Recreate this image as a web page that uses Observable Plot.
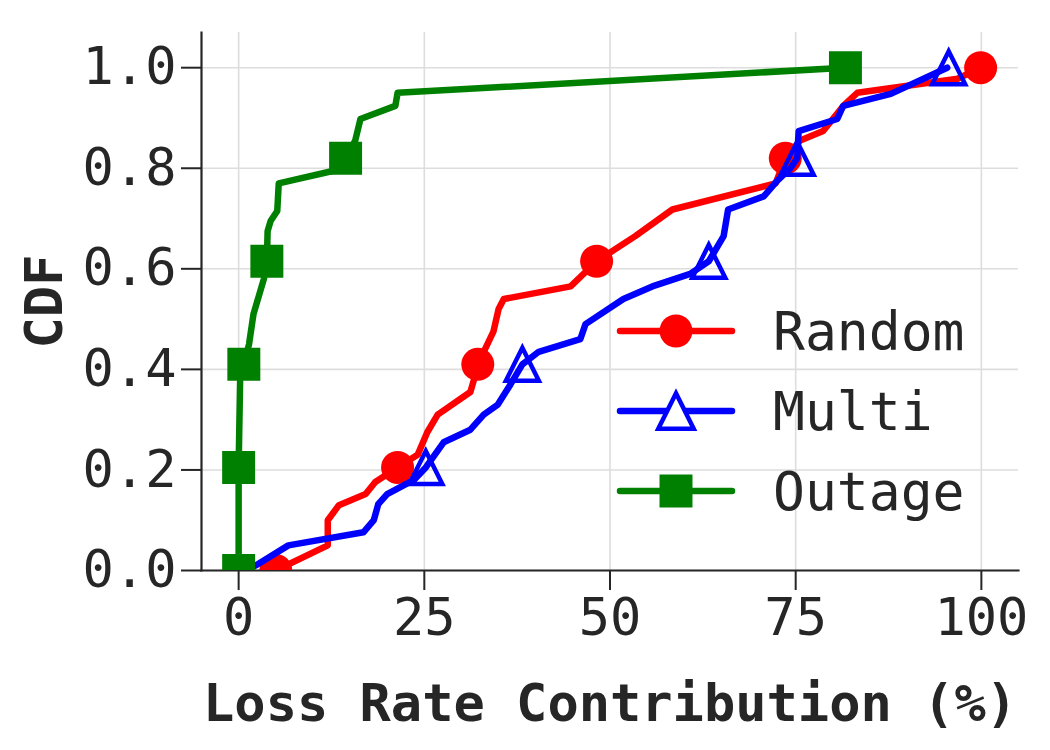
<!DOCTYPE html>
<html>
<head>
<meta charset="utf-8">
<script src="https://cdn.jsdelivr.net/npm/d3@7"></script>
<script src="https://cdn.jsdelivr.net/npm/@observablehq/plot@0.6"></script>
<style>
  body { margin: 0; background: #fff; }
  #wrap { position: relative; width: 1050px; height: 750px; }
  #wrap svg text { font-family: "DejaVu Sans Mono", monospace; }
  g[aria-label="x-axis label"] text, g[aria-label="y-axis label"] text { font-weight: bold; }
  #legend { position: absolute; left: 0; top: 0; pointer-events: none; }
</style>
</head>
<body>
<div id="wrap"></div>
<script>
// ---- Data ----
const seriesNames = ["Random", "Multi", "Outage"];
const seriesColors = ["#ff0000", "#0000ff", "#008000"];

const randomX = [5, 12, 12, 13.5, 17.1, 18.4, 21.4, 24.1, 25.4, 26.8, 31.2, 31.6, 32.2, 34.3, 35, 35.7, 44.7, 48.2, 53.4, 58.4, 72.3, 73.6, 75.6, 78.7, 81.4, 83.3, 96.8, 99.9];
const randomY = [0, 0.05, 0.1, 0.13, 0.152, 0.176, 0.205, 0.23, 0.275, 0.31, 0.355, 0.375, 0.41, 0.475, 0.52, 0.54, 0.565, 0.615, 0.665, 0.718, 0.77, 0.82, 0.855, 0.874, 0.924, 0.95, 0.978, 1.0];
const randomMarkX = [5, 21.4, 32.2, 48.2, 73.6, 99.9];
const randomMarkY = [0, 0.205, 0.41, 0.615, 0.82, 1.0];

const multiX = [1, 2.3, 6.7, 16.8, 18.2, 18.8, 20, 23.6, 25.2, 27.6, 31.2, 33, 34.9, 36.6, 38.2, 40.4, 46, 46.7, 51.8, 55.7, 60.8, 63.3, 65.3, 65.9, 70.7, 72.5, 74.3, 75.2, 75.4, 80.6, 81.4, 87.8, 95.4];
const multiY = [0, 0.01, 0.05, 0.076, 0.1, 0.132, 0.152, 0.18, 0.205, 0.255, 0.28, 0.31, 0.33, 0.37, 0.41, 0.435, 0.46, 0.49, 0.54, 0.565, 0.59, 0.615, 0.665, 0.718, 0.744, 0.775, 0.8, 0.82, 0.874, 0.898, 0.924, 0.948, 1.0];
const multiMarkX = [25.2, 38.2, 63.3, 75.2, 95.6];
const multiMarkY = [0.205, 0.41, 0.615, 0.82, 1.0];

const outageX = [0, 0, 0.2, 0.7, 1.4, 2.0, 3.4, 3.8, 3.9, 4.3, 5.2, 5.4, 12.8, 14.4, 15.7, 16.4, 21.1, 21.4, 81.7];
const outageY = [0, 0.205, 0.38, 0.41, 0.45, 0.51, 0.58, 0.615, 0.675, 0.695, 0.715, 0.77, 0.795, 0.82, 0.855, 0.898, 0.924, 0.95, 1.0];
const outageMarkX = [0, 0, 0.7, 3.8, 14.4, 81.7];
const outageMarkY = [0, 0.205, 0.41, 0.615, 0.82, 1.0];

const xTicks = [0, 25, 50, 75, 100];
const yTicks = [0, 0.2, 0.4, 0.6, 0.8, 1.0];

// ---- Build tables ----
const zip = (xs, ys) => xs.map((x, i) => ({x, y: ys[i]}));
const randomLine = zip(randomX, randomY), randomMarks = zip(randomMarkX, randomMarkY);
const multiLine = zip(multiX, multiY), multiMarks = zip(multiMarkX, multiMarkY);
const outageLine = zip(outageX, outageY), outageMarks = zip(outageMarkX, outageMarkY);

// matplotlib-style "^" triangle (width == height)
const mplTriangle = {
  draw(context, size) {
    const s = Math.sqrt(size) / 2;
    context.moveTo(0, -s);
    context.lineTo(s, s);
    context.lineTo(-s, s);
    context.closePath();
  }
};

const MS = 18.6; // r so that marker side ≈ 33px
const LW = 6.5;
const FS = 52;
const font = '"DejaVu Sans Mono", monospace';
const ink = "#262626";

const chart = Plot.plot({
  width: 1050,
  height: 750,
  marginLeft: 201,
  marginRight: 32,
  marginTop: 32,
  marginBottom: 180,
  style: {fontFamily: font, fontSize: FS + "px", color: ink, background: "#fff", overflow: "visible"},
  x: {domain: [-5, 105]},
  y: {domain: [0, 1.07]},
  marks: [
    Plot.gridX(xTicks, {stroke: "#dddddd", strokeOpacity: 1, strokeWidth: 1.6}),
    Plot.gridY(yTicks, {stroke: "#dddddd", strokeOpacity: 1, strokeWidth: 1.6}),
    Plot.axisX(xTicks, {
      tickSize: 20, tickPadding: 8, fontSize: FS, color: ink, strokeWidth: 2,
      label: "Loss Rate Contribution (%)", labelAnchor: "center", labelArrow: "none", labelOffset: 150
    }),
    Plot.axisY(yTicks, {
      tickSize: 20, tickPadding: 5, fontSize: FS, color: ink, strokeWidth: 2,
      tickFormat: d => d.toFixed(1),
      label: "CDF", labelAnchor: "center", labelArrow: "none", labelOffset: 176
    }),
    Plot.frame({anchor: "left", stroke: ink, strokeWidth: 2.2}),
    Plot.frame({anchor: "bottom", stroke: ink, strokeWidth: 2.2}),

    Plot.line(randomLine, {x: "x", y: "y", stroke: seriesColors[0], strokeWidth: LW, strokeLinejoin: "round", clip: true}),
    Plot.dot(randomMarks, {x: "x", y: "y", symbol: "circle", r: 16.5, fill: seriesColors[0], stroke: "none", clip: true}),

    Plot.line(multiLine, {x: "x", y: "y", stroke: seriesColors[1], strokeWidth: LW, strokeLinejoin: "round", clip: true}),
    Plot.dot(multiMarks, {x: "x", y: "y", symbol: mplTriangle, r: MS, fill: "none", stroke: seriesColors[1], strokeWidth: 4.5, clip: true}),

    Plot.line(outageLine, {x: "x", y: "y", stroke: seriesColors[2], strokeWidth: LW, strokeLinejoin: "round", clip: true}),
    Plot.dot(outageMarks, {x: "x", y: "y", symbol: "square", r: MS, fill: seriesColors[2], stroke: "none", clip: true})
  ]
});

const wrap = document.getElementById("wrap");
wrap.appendChild(chart);

// ---- Legend (transparent, drawn over the plot like matplotlib's) ----
const legend = d3.select(wrap).append("svg")
  .attr("id", "legend").attr("width", 1050).attr("height", 750);
const rowTop = 331, rowGap = 80, lineX0 = 620, lineX1 = 732, textX = 773;
const symbols = [d3.symbolCircle, mplTriangle, d3.symbolSquare];
const sizes = [Math.PI * 16.5 * 16.5, Math.PI * 20 * 20, Math.PI * MS * MS];
seriesNames.forEach((name, i) => {
  const g = legend.append("g").attr("transform", `translate(0,${rowTop + i * rowGap})`);
  g.append("line").attr("x1", lineX0).attr("x2", lineX1).attr("y1", 0).attr("y2", 0)
    .attr("stroke", seriesColors[i]).attr("stroke-width", LW).attr("stroke-linecap", "round");
  const p = g.append("path").attr("transform", `translate(${(lineX0 + lineX1) / 2},0)`)
    .attr("d", d3.symbol(symbols[i], sizes[i])());
  if (i === 1) p.attr("fill", "#fff").attr("stroke", seriesColors[i]).attr("stroke-width", 4.5);
  else p.attr("fill", seriesColors[i]);
  g.append("text").attr("x", textX).attr("y", 0).attr("dy", "0.35em")
    .attr("font-family", font).attr("font-size", 53).attr("fill", ink).text(name);
});
</script>
</body>
</html>
